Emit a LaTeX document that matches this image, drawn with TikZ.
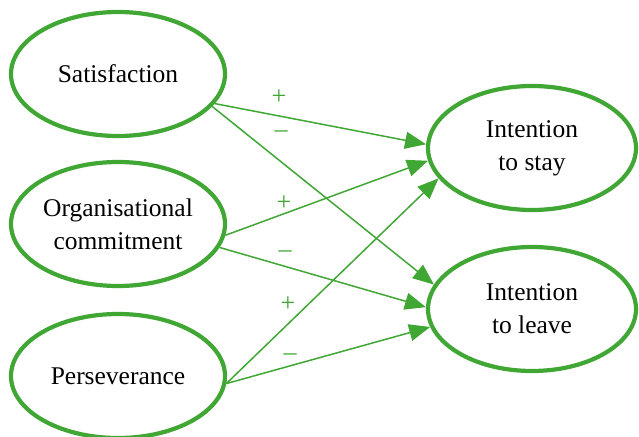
\documentclass[tikz,border=0pt]{standalone}
\usepackage{fontspec}
\newfontfamily\gfont{Liberation Serif}
\usetikzlibrary{arrows.meta,shapes.geometric}
\definecolor{grn}{RGB}{64,166,52}
\begin{document}
\begin{tikzpicture}[x=1pt,y=1pt,
  ell/.style={ellipse,draw=grn,line width=4.2pt,minimum width=214pt,minimum height=124pt,inner sep=0pt,align=center,font=\gfont\fontsize{25.5}{33}\selectfont},
  arr/.style={draw=grn,line width=1.5pt,-{Triangle[length=21pt,width=17pt]}},
  sgn/.style={text=grn,font=\gfont\fontsize{26}{26}\selectfont,inner sep=0pt}]
\useasboundingbox (0,0) rectangle (639,-436);
\clip (0,0) rectangle (639,-436);
\node[ell] (sat) at (118,-74) {Satisfaction};
\node[ell] (org) at (118,-224) {Organisational\\commitment};
\node[ell] (per) at (118,-376) {Perseverance};
\node[ell,minimum width=208pt] (stay) at (532,-148) {Intention\\to stay};
\node[ell,minimum width=208pt] (leave) at (532,-309) {Intention\\to leave};
\draw[arr] (sat.-17) -- (stay.178);
\draw[arr] (sat.-19) -- (leave.166);
\draw[arr] (org.-6) -- (stay.-173);
\draw[arr] (org.-13) -- (leave.179);
\draw[arr] (per.-4) -- (stay.-162);
\draw[arr] (per.-4) -- (leave.-170);
\node[sgn] (s1) at (279,-97) {+};
\node[sgn] (s2) at (281,-134) {\char"2013};
\node[sgn] (s3) at (284,-203) {+};
\node[sgn] (s4) at (285,-254) {\char"2013};
\node[sgn] (s5) at (288,-304) {+};
\node[sgn] (s6) at (290,-357) {\char"2013};
\end{tikzpicture}
\end{document}
